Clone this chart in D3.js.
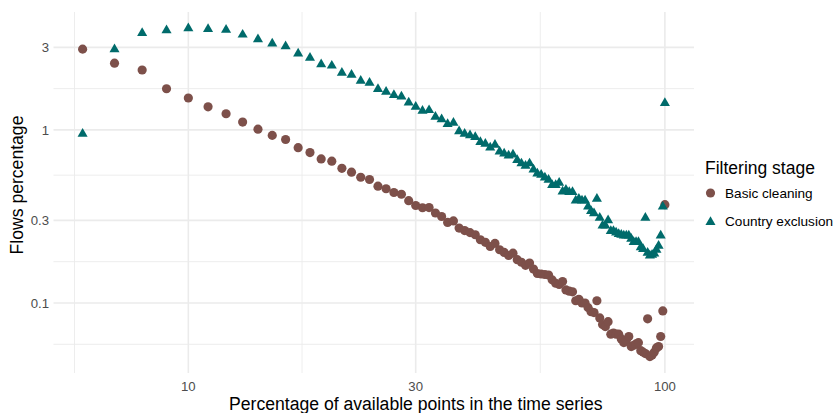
<!DOCTYPE html>
<html>
<head>
<meta charset="utf-8">
<script src="https://cdn.jsdelivr.net/npm/d3@7"></script>
<style>
  html, body { margin: 0; padding: 0; background: #fff; }
  text { font-family: "Liberation Sans", Arial, sans-serif; }
</style>
</head>
<body>
<div id="chart"></div>
<script>
// percentage of available points (x), shared by both stages
const pct = d3.range(6, 101);

// Basic cleaning, flows percentage
const basicCleaning = [
  2.93, 2.43, 2.22, 1.73, 1.53, 1.36, 1.24, 1.11, 1.01, 0.93,
  0.88, 0.79, 0.74, 0.68, 0.66, 0.60, 0.57, 0.533, 0.517, 0.473,
  0.457, 0.435, 0.425, 0.39, 0.366, 0.355, 0.356, 0.331, 0.316, 0.292,
  0.298, 0.271, 0.262, 0.255, 0.248, 0.232, 0.224, 0.212, 0.221, 0.203,
  0.196, 0.188, 0.194, 0.178, 0.172, 0.165, 0.170, 0.157, 0.148, 0.147,
  0.146, 0.145, 0.136, 0.130, 0.128, 0.133, 0.119, 0.117, 0.116, 0.103,
  0.105, 0.100, 0.100, 0.094, 0.089, 0.088, 0.103, 0.082, 0.075, 0.073,
  0.078, 0.066, 0.067, 0.066, 0.066, 0.062, 0.059, 0.061, 0.064, 0.056,
  0.057, 0.058, 0.059, 0.053, 0.052, 0.051, 0.081, 0.049, 0.050, 0.052,
  0.055, 0.056, 0.064, 0.090, 0.37
];

// Country exclusion, flows percentage
const countryExclusion = [
  0.95, 2.92, 3.63, 3.76, 3.86, 3.82, 3.79, 3.55, 3.34, 3.15,
  3.04, 2.76, 2.61, 2.39, 2.35, 2.14, 2.08, 1.92, 1.87, 1.72,
  1.66, 1.59, 1.56, 1.44, 1.36, 1.29, 1.30, 1.19, 1.15, 1.08,
  1.10, 0.98, 0.95, 0.93, 0.91, 0.85, 0.83, 0.79, 0.82, 0.75,
  0.73, 0.71, 0.72, 0.67, 0.64, 0.62, 0.64, 0.59, 0.56, 0.55,
  0.53, 0.515, 0.48, 0.48, 0.495, 0.44, 0.45, 0.437, 0.437, 0.39,
  0.40, 0.39, 0.39, 0.36, 0.34, 0.33, 0.40, 0.31, 0.28, 0.28,
  0.30, 0.26, 0.26, 0.255, 0.25, 0.248, 0.245, 0.245, 0.245, 0.235,
  0.225, 0.225, 0.225, 0.21, 0.205, 0.31, 0.195, 0.188, 0.19, 0.193,
  0.203, 0.214, 0.245, 0.36, 1.43
];

const stages = ["Basic cleaning", "Country exclusion"];
const stageColors = ["#7d504a", "#006b6b"];

const xTicks = [10, 30, 100];
const yTicks = [0.1, 0.3, 1, 3];
const xMinor = [5.77, 17.32, 54.77];
const yMinor = [0.0577, 0.1732, 0.5477, 1.732];

const width = 834, height = 413;
const panel = { left: 53.5, right: 694, top: 12, bottom: 373 };

const svg = d3.select("#chart").append("svg")
  .attr("width", width)
  .attr("height", height);

// ggplot-like 5% expansion in log space
function logDomain(vals) {
  const lo = Math.log10(d3.min(vals)), hi = Math.log10(d3.max(vals));
  const pad = (hi - lo) * 0.05;
  return [Math.pow(10, lo - pad), Math.pow(10, hi + pad)];
}

const x = d3.scaleLog()
  .domain(logDomain(pct))
  .range([panel.left, panel.right]);

const y = d3.scaleLog()
  .domain(logDomain(basicCleaning.concat(countryExclusion)))
  .range([panel.bottom, panel.top]);

// grid
const grid = svg.append("g");
grid.selectAll("line.xminor").data(xMinor).enter().append("line")
  .attr("x1", d => x(d)).attr("x2", d => x(d))
  .attr("y1", panel.top).attr("y2", panel.bottom)
  .attr("stroke", "#ebebeb").attr("stroke-width", 0.9);
grid.selectAll("line.yminor").data(yMinor).enter().append("line")
  .attr("y1", d => y(d)).attr("y2", d => y(d))
  .attr("x1", panel.left).attr("x2", panel.right)
  .attr("stroke", "#ebebeb").attr("stroke-width", 0.9);
grid.selectAll("line.xmajor").data(xTicks).enter().append("line")
  .attr("x1", d => x(d)).attr("x2", d => x(d))
  .attr("y1", panel.top).attr("y2", panel.bottom)
  .attr("stroke", "#ebebeb").attr("stroke-width", 1.6);
grid.selectAll("line.ymajor").data(yTicks).enter().append("line")
  .attr("y1", d => y(d)).attr("y2", d => y(d))
  .attr("x1", panel.left).attr("x2", panel.right)
  .attr("stroke", "#ebebeb").attr("stroke-width", 1.6);

// tick labels
svg.selectAll("text.xtick").data(xTicks).enter().append("text")
  .attr("x", d => x(d))
  .attr("y", 390.5)
  .attr("text-anchor", "middle")
  .attr("font-size", 13.2)
  .attr("fill", "#4d4d4d")
  .text(d => d);

svg.selectAll("text.ytick").data(yTicks).enter().append("text")
  .attr("x", 49)
  .attr("y", d => y(d))
  .attr("dy", "0.36em")
  .attr("text-anchor", "end")
  .attr("font-size", 13.2)
  .attr("fill", "#4d4d4d")
  .text(d => d);

// axis titles
svg.append("text")
  .attr("x", 415.8)
  .attr("y", 409.5)
  .attr("text-anchor", "middle")
  .attr("font-size", 17.6)
  .attr("fill", "#000")
  .text("Percentage of available points in the time series");

svg.append("text")
  .attr("transform", "translate(22.7,185) rotate(-90)")
  .attr("text-anchor", "middle")
  .attr("font-size", 17.6)
  .attr("fill", "#000")
  .text("Flows percentage");

// points
const circleSym = d3.symbol().type(d3.symbolCircle).size(66);
const triSym = d3.symbol().type(d3.symbolTriangle).size(44);

svg.append("g").selectAll("path")
  .data(pct.map((p, i) => [p, basicCleaning[i]]))
  .enter().append("path")
  .attr("transform", d => `translate(${x(d[0])},${y(d[1])})`)
  .attr("d", circleSym)
  .attr("fill", stageColors[0]);

svg.append("g").selectAll("path")
  .data(pct.map((p, i) => [p, countryExclusion[i]]))
  .enter().append("path")
  .attr("transform", d => `translate(${x(d[0])},${y(d[1])})`)
  .attr("d", triSym)
  .attr("fill", stageColors[1]);

// legend
const legend = svg.append("g").attr("transform", "translate(705,0)");
legend.append("text")
  .attr("x", 0).attr("y", 174)
  .attr("font-size", 17.5)
  .attr("fill", "#000")
  .text("Filtering stage");

const legendSyms = [circleSym, triSym];
stages.forEach((s, i) => {
  const cy = 193 + i * 28;
  legend.append("path")
    .attr("transform", `translate(5.5,${cy + (i === 1 ? 1 : 0)})`)
    .attr("d", legendSyms[i])
    .attr("fill", stageColors[i]);
  legend.append("text")
    .attr("x", 20).attr("y", cy)
    .attr("dy", "0.36em")
    .attr("font-size", 13.6)
    .attr("fill", "#000")
    .text(s);
});
</script>
</body>
</html>
